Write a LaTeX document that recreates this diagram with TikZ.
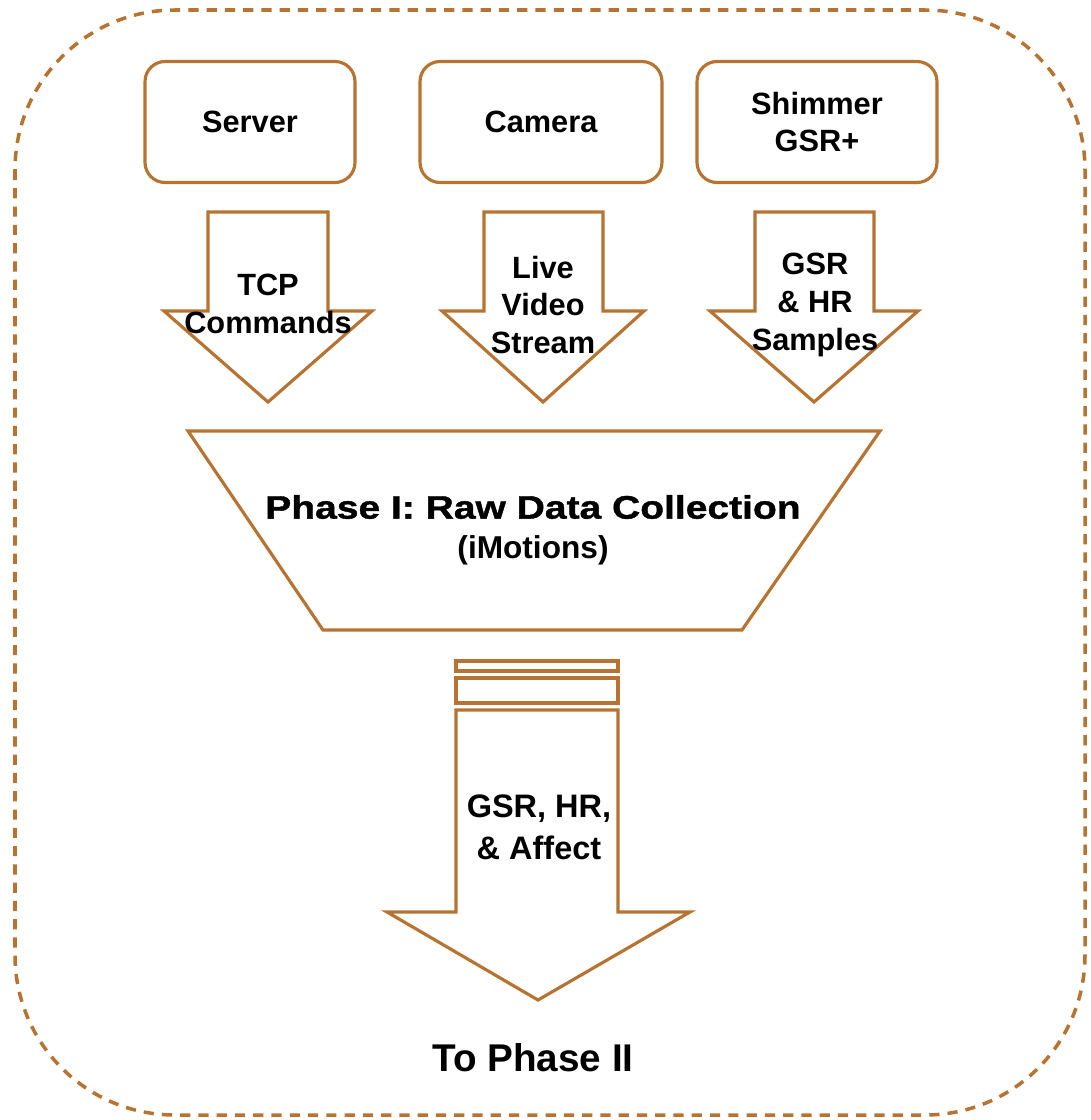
\documentclass[tikz,border=0pt]{standalone}
\usepackage{fontspec}
\setmainfont{Liberation Sans}
\newfontfamily\widefont[FakeStretch=1.2,FakeBold=1.2]{Liberation Sans}
\definecolor{rust}{RGB}{183,115,50}
\tikzset{
	brownline/.style={draw=rust, line width=1.8pt, line join=miter},
	srcbox/.style={brownline, rounded corners=0.4cm, minimum height=2.42cm, align=center,
		font=\fontsize{17.5}{21.5}\selectfont\bfseries},
	lbl/.style={align=center, font=\fontsize{17.5}{21.5}\selectfont\bfseries},
}
\begin{document}
\begin{tikzpicture}[x=0.02cm, y=-0.02cm]
			\useasboundingbox (0,0) rectangle (1090,1120);
			% outer frame
			\draw [draw=rust, line width=2pt, dash pattern=on 5.8pt off 4.6pt, rounded corners=3.2cm] (15,10) rectangle (1085,1115);
			% sources
			\node [srcbox, minimum width=4.2cm] (server) at (250,122) {Server};
			\node [srcbox, minimum width=4.84cm] (camera) at (541,122) {Camera};
			\node [srcbox, minimum width=4.8cm] (shimmer) at (817,122) {Shimmer\\GSR+};
			% block arrows
			\draw [brownline] (208,212) -- (328,212) -- (328,311) -- (372,311) -- (268,402) -- (164,311) -- (208,311) -- cycle;
			\draw [brownline] (484,212) -- (603,212) -- (603,311) -- (644,311) -- (543,402) -- (442,311) -- (484,311) -- cycle;
			\draw [brownline] (755,212) -- (874,212) -- (874,311) -- (918,311) -- (814,402) -- (710,311) -- (755,311) -- cycle;
			\node [lbl] (tcp) at (268,304) {TCP\\Commands};
			\node [lbl] (video) at (543,305) {Live\\Video\\Stream};
			\node [lbl] (samples) at (815,305) {GSR\\\& HR\\Samples};
			% phase I
			\draw [brownline] (188,431) -- (880,431) -- (742,630) -- (323,630) -- cycle;
			\node [font=\fontsize{18.5}{22}\selectfont\widefont\bfseries] (phase) at (533,507) {Phase I: Raw Data Collection};
			\node [lbl, font=\fontsize{18}{22}\selectfont\bfseries] (imotions) at (533,550) {(iMotions)};
			% output
			\draw [brownline] (456,661) rectangle (618,671);
			\draw [brownline] (456,678) rectangle (618,703);
			\draw [brownline] (456,710) -- (618,710) -- (618,912) -- (690,912) -- (538,1000) -- (387,912) -- (456,912) -- cycle;
			\node [lbl, font=\fontsize{18.5}{24}\selectfont\bfseries] (affect) at (539,827) {GSR, HR,\\\& Affect};
			\node [font=\fontsize{22}{26}\selectfont\bfseries] (next) at (533,1058) {To Phase II};
\end{tikzpicture}
\end{document}
